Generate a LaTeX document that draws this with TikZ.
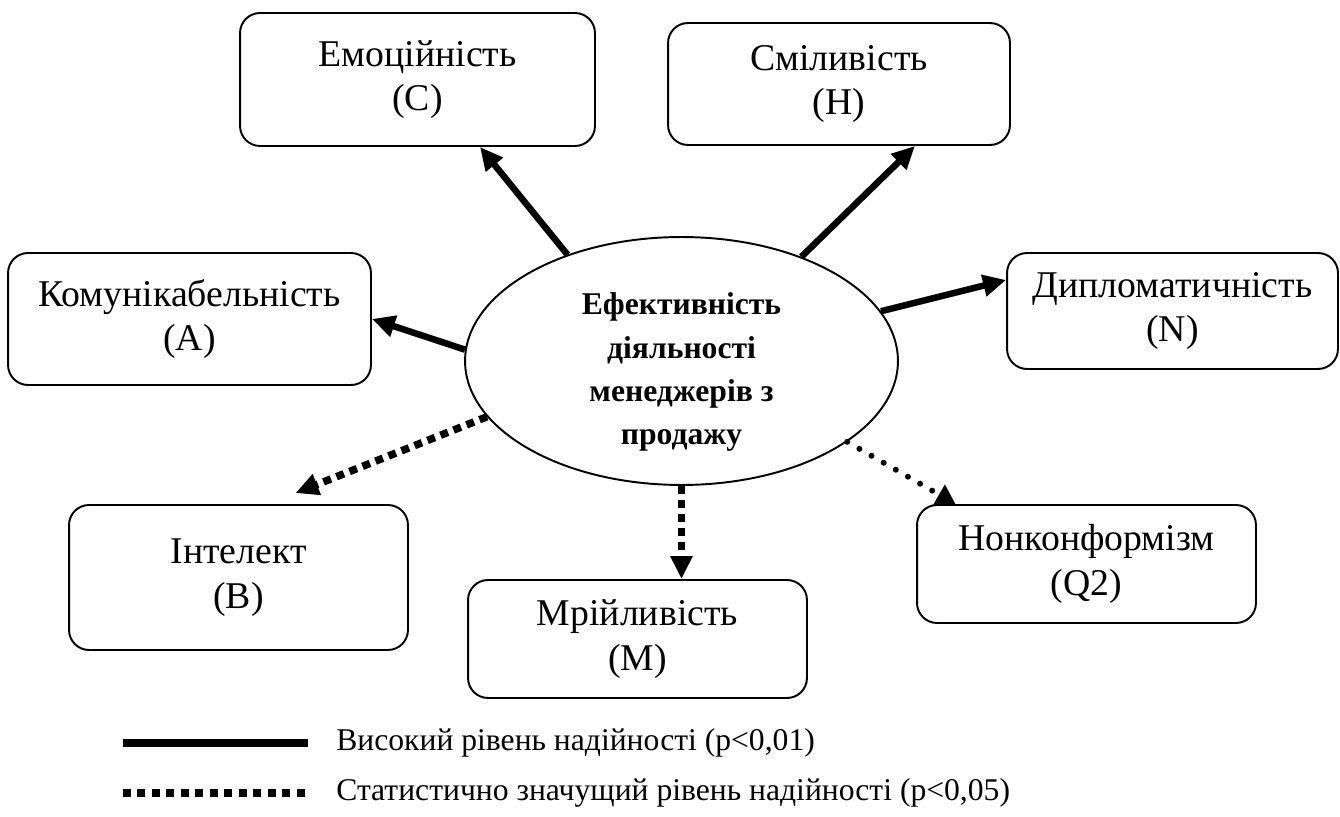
\documentclass[tikz,border=0pt]{standalone}
\usepackage{fontspec}
\setmainfont{Liberation Serif}
\usetikzlibrary{shapes,arrows.meta,positioning,calc}

\begin{document}
\begin{tikzpicture}[
    x=0.02cm, y=-0.02cm,
    factor/.style={rectangle, draw=black, line width=1.1pt, rounded corners=0.4cm, align=center, inner sep=0pt, font=\fontsize{21.5}{25.5}\selectfont},
    core/.style={ellipse, draw=black, line width=1.1pt, inner sep=0pt, minimum width=8.66cm, minimum height=4.96cm},
    coretext/.style={align=center, inner sep=0pt, font=\fontsize{18}{24.5}\selectfont\bfseries},
    strong/.style={-{Triangle[length=0.46cm,width=0.42cm]}, line width=0.13cm},
    weak/.style={-{Triangle[length=0.46cm,width=0.42cm]}, line width=0.15cm, dash pattern=on 0.16cm off 0.12cm},
    dots/.style={-{Triangle[length=0.38cm,width=0.44cm]}, line width=0.12cm, line cap=round, dash pattern=on 0pt off 0.28cm},
    keytext/.style={anchor=west, inner sep=0pt, font=\fontsize{18}{22}\selectfont}
]
    \useasboundingbox (0,0) rectangle (1340,817);

    % central ellipse
    \node [core] (core) at (681.5,361) {};
    \node [coretext] (corelabel) at (681.5,372) {Ефективність\\діяльності\\менеджерів з\\продажу};

    % factors
    \node [factor, minimum width=7.10cm, minimum height=2.66cm] (cbox) at (417.5,79.5) {Емоційність\\(C)};
    \node [factor, minimum width=6.84cm, minimum height=2.44cm] (hbox) at (839,84) {Сміливість\\(H)};
    \node [factor, minimum width=7.26cm, minimum height=2.64cm] (abox) at (189.5,319) {Комунікабельність\\(A)};
    \node [factor, minimum width=6.62cm, minimum height=2.32cm] (nbox) at (1172.5,311) {Дипломатичність\\(N)};
    \node [factor, minimum width=6.78cm, minimum height=2.90cm] (bbox) at (238.5,577.5) {Інтелект\\(B)};
    \node [factor, minimum width=6.78cm, minimum height=2.36cm] (mbox) at (637.5,639) {Мрійливість\\(M)};
    \node [factor, minimum width=6.78cm, minimum height=2.36cm] (qbox) at (1086.5,564) {Нонконформізм\\(Q2)};

    % links
    \draw [strong] (core.177.6) -- (abox.east);
    \draw [strong] (core.137.7) -- ([xshift=1.25cm]cbox.south);
    \draw [strong] (core.41) -- ([xshift=1.52cm]hbox.south);
    \draw [strong] (core.14.4) -- ([yshift=0.62cm]nbox.west);
    \draw [weak] (core.196.3) -- ([xshift=1.14cm,yshift=0.22cm]bbox.north);
    \draw [weak] (core.south) -- (core.south |- mbox.north);
    \draw [dots] (core.334.9) -- ([xshift=-2.62cm]qbox.north);

    % legend
    \coordinate (k1a) at (123,743);
    \coordinate (k1b) at (308,743);
    \coordinate (k2a) at (123,793);
    \coordinate (k2b) at (308,793);
    \draw [line width=0.16cm] (k1a) -- (k1b);
    \draw [line width=0.16cm, dash pattern=on 0.16cm off 0.13cm] (k2a) -- (k2b);
    \node [keytext] (key1) at (336,743) {Високий рівень надійності (p<0,01)};
    \node [keytext] (key2) at (336,793) {Статистично значущий рівень надійності (p<0,05)};
\end{tikzpicture}
\end{document}
